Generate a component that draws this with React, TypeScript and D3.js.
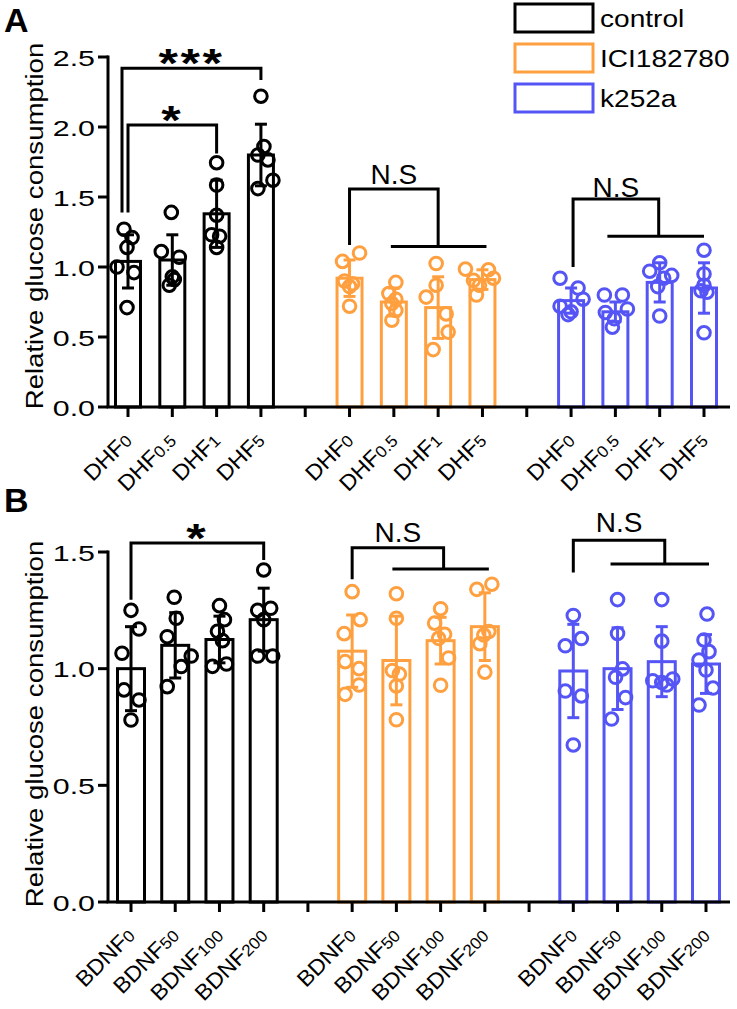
import React, { useEffect } from "react";
import * as d3 from "d3";

const FONT = "'Liberation Sans', Arial, Helvetica, sans-serif";

// ---------- categories ----------
const groups = ["control", "ICI182780", "k252a"];
const groupColors = ["#000000", "#FFA040", "#5555F6"];
const slotKeys = ["c0", "c1", "c2", "c3", "gap1", "i0", "i1", "i2", "i3", "gap2", "k0", "k1", "k2", "k3"];
const groupSlots = [["c0", "c1", "c2", "c3"], ["i0", "i1", "i2", "i3"], ["k0", "k1", "k2", "k3"]];
const dhfDoses = ["0", "0.5", "1", "5"];
const bdnfDoses = ["0", "50", "100", "200"];
const yTicksA = [0, 0.5, 1.0, 1.5, 2.0, 2.5];
const yTicksB = [0, 0.5, 1.0, 1.5];
const yTitle = "Relative glucose consumption";

// ---------- Panel A (DHF) ----------
const meanA_control = [1.04, 1.05, 1.38, 1.80];
const meanA_ici = [0.92, 0.75, 0.71, 0.91];
const meanA_k252a = [0.76, 0.68, 0.89, 0.85];
const sdA_control = [0.19, 0.18, 0.24, 0.22];
const sdA_ici = [0.13, 0.10, 0.22, 0.07];
const sdA_k252a = [0.09, 0.07, 0.14, 0.18];
const ptsA_control = [
  [1.27, 1.21, 1.14, 1.00, 0.96, 0.71],
  [1.39, 1.11, 1.07, 0.93, 0.87, 0.91],
  [1.745, 1.585, 1.37, 1.23, 1.22, 1.14],
  [2.22, 1.86, 1.80, 1.765, 1.56, 1.62],
];
const ptsA_ici = [
  [1.10, 1.04, 0.90, 0.88, 0.86, 0.72],
  [0.89, 0.81, 0.77, 0.74, 0.69, 0.62],
  [1.025, 0.87, 0.785, 0.665, 0.535, 0.41],
  [0.985, 0.98, 0.92, 0.905, 0.87, 0.80],
];
const ptsA_k252a = [
  [0.92, 0.85, 0.77, 0.72, 0.68, 0.66],
  [0.80, 0.80, 0.70, 0.675, 0.63, 0.57],
  [1.03, 0.97, 0.94, 0.92, 0.86, 0.65],
  [1.12, 0.95, 0.87, 0.83, 0.82, 0.53],
];
// horizontal scatter of the dots (px)
const jitA_control = [[-4, 4, -1, -11, 6, -1], [-1, -11, 7, 0, -3, 2], [0, 0, 0, -5, 3, 0], [0, 3, -3, 7, -3, 12]];
const jitA_ici = [[10, -7, -5, 3, 0, 0], [2, -5, 2, -2, 2, -2], [-2, -2, -12, 8, 10, -5], [-17, 6, 11, -9, -3, -6]];
const jitA_k252a = [[-11, 7, 12, -11, 0, -3], [-11, 7, 12, -10, -1, -3], [0, -10, 12, 4, -2, 0], [0, 0, 0, -3, 3, 0]];

// ---------- Panel B (BDNF) ----------
const meanB_control = [1.00, 1.10, 1.125, 1.21];
const meanB_ici = [1.075, 1.035, 1.12, 1.18];
const meanB_k252a = [0.99, 1.00, 1.03, 1.02];
const sdB_control = [0.18, 0.14, 0.10, 0.135];
const sdB_ici = [0.155, 0.19, 0.10, 0.145];
const sdB_k252a = [0.20, 0.175, 0.15, 0.126];
const ptsB_control = [
  [1.25, 1.17, 1.066, 0.909, 0.866, 0.78],
  [1.306, 1.216, 1.137, 1.054, 1.009, 0.923],
  [1.27, 1.21, 1.16, 1.12, 1.02, 1.01],
  [1.423, 1.259, 1.25, 1.21, 1.054, 1.054],
];
const ptsB_ici = [
  [1.33, 1.21, 1.15, 1.03, 1.00, 0.93, 0.89],
  [1.321, 1.216, 0.992, 0.977, 0.926, 0.781],
  [1.257, 1.195, 1.147, 1.13, 1.046, 0.929],
  [1.362, 1.34, 1.159, 1.144, 1.107, 0.985],
];
const ptsB_k252a = [
  [1.228, 1.129, 1.098, 0.904, 0.883, 0.673],
  [1.296, 1.151, 0.999, 0.963, 0.876, 0.784],
  [1.296, 1.118, 0.956, 0.948, 0.941, 0.93],
  [1.234, 1.123, 1.073, 1.037, 0.994, 0.917, 0.844],
];
const jitB_control = [[0, 8, -9, -7, 8, 0], [-1, 1, -8, 16, 6, -8], [0, 5, -2, 3, 7, -7], [0, 7, -6, 0, -6, 9]];
const jitB_ici = [[0, 8, -8, -7, 7, 7, -7], [0, 0, -4, 3, 0, 0], [0, -6, 4, -2, 8, 0], [7, -8, 4, -1, -5, 0]];
const jitB_k252a = [[0, 8, -8, -8, 8, 0], [0, 0, 5, -2, 8, -6], [0, 0, 11, -9, 0, 5], [1, -2, 3, -7, 0, 7, -7]];

// ---------- significance brackets (values in data units) ----------
const sigA = [
  { text: "*", l: "c0", ldx: 0, lBot: 1.39, top: 2.014, r: "c2", rdx: 0, rBot: 1.81, labelV: 2.089, star: true },
  { text: "***", l: "c0", ldx: -6, lBot: 1.39, top: 2.42, r: "c3", rdx: 0, rBot: 2.336, labelV: 2.496, star: true },
  { text: "N.S", l: "i0", ldx: 0, lBot: 1.157, top: 1.557, r: "i2", rdx: 0, rBot: 1.146, h1: "i1", h1dx: -3, h2: "i3", h2dx: 4, labelV: 1.593 },
  { text: "N.S", l: "k0", ldx: 2, lBot: 1.0, top: 1.486, r: "k2", rdx: -1, rBot: 1.219, h1: "k1", h1dx: -8, h2: "k3", h2dx: 0, labelV: 1.5 },
];
const sigB = [
  { text: "*", l: "c0", ldx: 0, lBot: 1.295, top: 1.539, r: "c3", rdx: 0, rBot: 1.466, labelV: 1.581, star: true },
  { text: "N.S", l: "i0", ldx: 0, lBot: 1.383, top: 1.518, r: "i2", rdx: 3, rBot: 1.427, h1: "i1", h1dx: -4, h2: "i3", h2dx: 4, labelV: 1.544 },
  { text: "N.S", l: "k0", ldx: 0, lBot: 1.412, top: 1.55, r: "k2", rdx: 3, rBot: 1.449, h1: "k1", h1dx: -7, h2: "k3", h2dx: 3, labelV: 1.586 },
];

const panels = [
  {
    letter: "A", letterY: 32, drug: "DHF", doses: dhfDoses, yTicks: yTicksA,
    yDomain: [0, 2.5], yRange: [407, 57], xRange: [128, 704], barW: 25, titleY: 226,
    means: [meanA_control, meanA_ici, meanA_k252a], sds: [sdA_control, sdA_ici, sdA_k252a],
    pts: [ptsA_control, ptsA_ici, ptsA_k252a], jit: [jitA_control, jitA_ici, jitA_k252a], sig: sigA,
  },
  {
    letter: "B", letterY: 512, drug: "BDNF", doses: bdnfDoses, yTicks: yTicksB,
    yDomain: [0, 1.5], yRange: [902, 552], xRange: [131, 706], barW: 27, titleY: 724,
    means: [meanB_control, meanB_ici, meanB_k252a], sds: [sdB_control, sdB_ici, sdB_k252a],
    pts: [ptsB_control, ptsB_ici, ptsB_k252a], jit: [jitB_control, jitB_ici, jitB_k252a], sig: sigB,
  },
];

const AXIS_X = 108;
const AXIS_END = 730;
const SW = 3;

function Panel({ p }: { p: any }) {
  const x = d3.scalePoint<string>().domain(slotKeys).range(p.xRange);
  const y = d3.scaleLinear().domain(p.yDomain).range(p.yRange);
  const y0 = y(0);
  const fmt = d3.format(".1f");
  const starFs = 40;
  return (
    <g>
      <text x={4} y={p.letterY} fontFamily={FONT} fontWeight="bold" fontSize={34}>{p.letter}</text>
      {/* y title */}
      <text transform={`translate(43,${p.titleY}) rotate(-90) scale(1.15,1)`} textAnchor="middle"
        fontFamily={FONT} fontSize={24}>{yTitle}</text>
      {/* bars, error bars, dots */}
      {groups.map((g, gi) => groupSlots[gi].map((key, di) => {
        const cx = x(key)!;
        const m = p.means[gi][di];
        const sd = p.sds[gi][di];
        const col = groupColors[gi];
        const w = p.barW;
        return (
          <g key={g + key}>
            <rect x={cx - w / 2} y={y(m)} width={w} height={y0 - y(m)} fill="white" stroke={col} strokeWidth={SW} />
            <line x1={cx} x2={cx} y1={y(m - sd)} y2={y(m + sd)} stroke={col} strokeWidth={SW} />
            <line x1={cx - 6} x2={cx + 6} y1={y(m + sd)} y2={y(m + sd)} stroke={col} strokeWidth={SW} />
            <line x1={cx - 6} x2={cx + 6} y1={y(m - sd)} y2={y(m - sd)} stroke={col} strokeWidth={SW} />
            {p.pts[gi][di].map((v: number, k: number) => (
              <circle key={k} cx={cx + p.jit[gi][di][k]} cy={y(v)} r={6.3} fill="none" stroke={col} strokeWidth={SW} />
            ))}
          </g>
        );
      }))}
      {/* axes */}
      <line x1={AXIS_X} x2={AXIS_X} y1={y(p.yDomain[1]) - 1.5} y2={y0} stroke="black" strokeWidth={SW} />
      <line x1={AXIS_X - 1.5} x2={AXIS_END} y1={y0} y2={y0} stroke="black" strokeWidth={SW} />
      {p.yTicks.map((t: number) => (
        <g key={t}>
          <line x1={AXIS_X - 10} x2={AXIS_X} y1={y(t)} y2={y(t)} stroke="black" strokeWidth={SW} />
          <text transform={`translate(95,${y(t) + 8.5}) scale(1.35,1)`} textAnchor="end" fontFamily={FONT} fontSize={22.5}>{fmt(t)}</text>
        </g>
      ))}
      {slotKeys.map((k) => (
        <line key={k} x1={x(k)} x2={x(k)} y1={y0} y2={y0 + 10} stroke="black" strokeWidth={SW} />
      ))}
      {groupSlots.map((slots, gi) => slots.map((key, di) => (
        <text key={gi + key} transform={`translate(${x(key)! + 5},${y0 + 35}) rotate(-45) scale(1.05,1)`}
          textAnchor="end" fontFamily={FONT} fontSize={22}>
          <tspan>{p.drug}</tspan><tspan fontSize={16.5}>{p.doses[di]}</tspan>
        </text>
      )))}
      {/* significance brackets */}
      {p.sig.map((s: any, i: number) => {
        const xl = x(s.l)! + s.ldx;
        const xr = x(s.r)! + s.rdx;
        let d = `M${xl},${y(s.lBot)}V${y(s.top)}H${xr}V${y(s.rBot)}`;
        if (s.h1) d += `M${x(s.h1)! + s.h1dx},${y(s.rBot)}H${x(s.h2)! + s.h2dx}`;
        const tx = (xl + xr) / 2;
        return (
          <g key={i}>
            <path d={d} fill="none" stroke="black" strokeWidth={SW} />
            {s.star ? (
              <text transform={`translate(${tx},${y(s.labelV) + starFs * 0.48}) scale(1.25,1)`} textAnchor="middle"
                fontFamily={FONT} fontWeight="bold" fontSize={starFs} letterSpacing={2}>{s.text}</text>
            ) : (
              <text x={tx} y={y(s.labelV)} textAnchor="middle" fontFamily={FONT} fontSize={28}>{s.text}</text>
            )}
          </g>
        );
      })}
    </g>
  );
}

export default function App() {
  useEffect(() => {
    document.body.style.margin = "0";
    document.body.style.overflow = "hidden";
  }, []);
  const legendY = [4, 44, 84];
  return (
    <svg width={737} height={1009} style={{ position: "absolute", left: 0, top: 0, background: "white" }}>
      <rect x={0} y={0} width={737} height={1009} fill="white" />
      {panels.map((p) => <Panel key={p.letter} p={p} />)}
      {groups.map((g, i) => (
        <g key={g}>
          <rect x={515} y={legendY[i]} width={78} height={28} fill="white" stroke={groupColors[i]} strokeWidth={SW} />
          <text transform={`translate(600,${legendY[i] + 23}) scale(1.17,1)`} fontFamily={FONT} fontSize={24}>{g}</text>
        </g>
      ))}
    </svg>
  );
}
